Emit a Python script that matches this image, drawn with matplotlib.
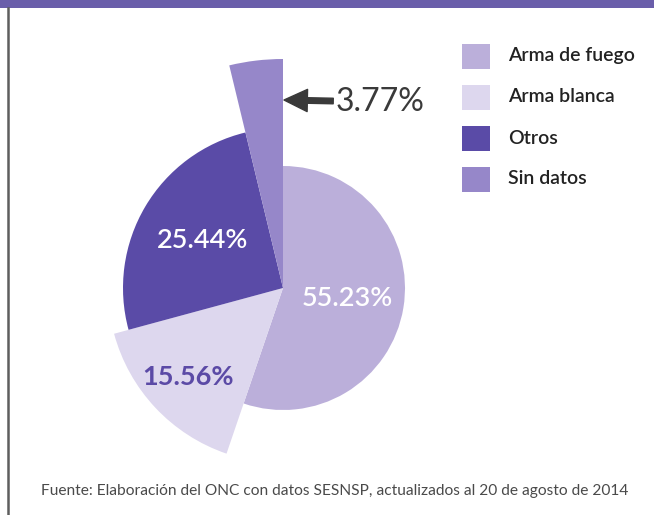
import numpy as np
import matplotlib.pyplot as plt
from matplotlib.patches import Rectangle

# data
categories = ['Arma de fuego', 'Arma blanca', 'Otros', 'Sin datos']
shares = [55.23, 15.56, 25.44, 3.77]
pct_labels = ['55.23%', '15.56%', '25.44%', '3.77%']
source = 'Fuente: Elaboración del ONC con datos SESNSP, actualizados al 20 de agosto de 2014'

# styling
colors = ['#bbafda', '#ddd7ee', '#5a4ba7', '#9687c9']
radii = [122, 175, 160, 229]
label_dist = [65, 130, 93, None]
label_colors = ['white', '#5b4aa6', 'white', '#3a3a3a']

W, H = 654, 515
plt.rcParams['font.family'] = ['Lato', 'DejaVu Sans']

fig = plt.figure(figsize=(6.54, 5.15), dpi=100)
ax = fig.add_axes([0, 0, 1, 1])
cx, cy = 283, H - 288

wedges, _ = ax.pie(shares, colors=colors, startangle=90, counterclock=False,
                   center=(cx, cy), radius=100, frame=True)
for w, r in zip(wedges, radii):
    w.set_radius(r)

# labels at the middle angle of each slice
for w, lab, d, c in zip(wedges, pct_labels, label_dist, label_colors):
    if d is None:
        continue
    mid = np.deg2rad((w.theta1 + w.theta2) / 2)
    ax.text(cx + d * np.cos(mid), cy + d * np.sin(mid), lab, ha='center', va='center',
            fontsize=19.5, color=c, fontweight='bold' if c != 'white' else 'semibold')

# small slice gets an arrow
ax.annotate(pct_labels[-1], xy=(cx + 1, cy + 188), xytext=(336, cy + 186),
            ha='left', va='center', fontsize=23, color=label_colors[-1],
            arrowprops=dict(arrowstyle='simple,head_length=1.05,head_width=1.0,tail_width=0.25',
                            color='#3a3a3a', mutation_scale=16, shrinkA=0, shrinkB=0))

# legend
for i, (cat, col) in enumerate(zip(categories, colors)):
    yy = H - (56 + 41 * i)
    ax.add_patch(Rectangle((462, yy - 12.5), 28, 25, color=col, lw=0))
    ax.text(508, yy, cat, ha='left', va='center', fontsize=14, color='#222222',
            fontweight='semibold')

# frame bits
ax.add_patch(Rectangle((0, H - 8), W, 8, color='#6a5eaa', lw=0))
ax.plot([7.5, 7.5], [0, H - 8], color='#5e5e5e', lw=1.8)

ax.text(335, H - 491, source, ha='center', va='center', fontsize=11.2,
        color='#4a4a4a')

ax.set_xlim(0, W)
ax.set_ylim(0, H)
ax.set_aspect('auto')
ax.axis('off')

fig.savefig('out.png', dpi=100)
